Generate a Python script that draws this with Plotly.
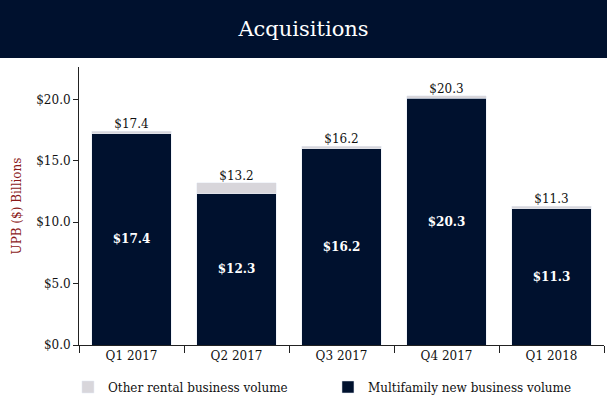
import plotly.graph_objects as go

quarters = ["Q1 2017", "Q2 2017", "Q3 2017", "Q4 2017", "Q1 2018"]
multifamily = [17.2, 12.3, 16.0, 20.1, 11.1]
other_rental = [0.2, 0.9, 0.2, 0.2, 0.2]
inside_labels = [17.4, 12.3, 16.2, 20.3, 11.3]
total_labels = [17.4, 13.2, 16.2, 20.3, 11.3]

NAVY = "#00112E"
GRAY = "#D8D6DB"
FONT = "DejaVu Serif"

totals = [m + o for m, o in zip(multifamily, other_rental)]

fig = go.Figure()
fig.add_trace(
    go.Bar(
        x=quarters,
        y=multifamily,
        name="Multifamily new business volume",
        marker_color=NAVY,
        text=[f"<b>${v:.1f}</b>" for v in inside_labels],
        textposition="inside",
        insidetextanchor="middle",
        textfont=dict(color="white", size=12, family=FONT),
        hoverinfo="skip",
    )
)
fig.add_trace(
    go.Bar(
        x=quarters,
        y=other_rental,
        name="Other rental business volume",
        marker_color=GRAY,
        textposition="none",
        hoverinfo="skip",
    )
)
# totals above each stack
fig.add_trace(
    go.Scatter(
        x=quarters,
        y=totals,
        mode="text",
        text=[f"${v:.1f}" for v in total_labels],
        textposition="top center",
        textfont=dict(color="#111111", size=12, family=FONT),
        showlegend=False,
        cliponaxis=False,
        hoverinfo="skip",
    )
)

# title banner
fig.add_shape(
    type="rect", xref="paper", yref="paper",
    x0=-0.2, x1=1.1, y0=1.0324, y1=1.3,
    fillcolor=NAVY, line_width=0, layer="below",
)

fig.update_layout(
    width=607,
    height=419,
    barmode="stack",
    bargap=0.24,
    paper_bgcolor="white",
    plot_bgcolor="white",
    margin=dict(l=79, r=3, t=67, b=74),
    font=dict(family=FONT, size=12, color="#111111"),
    title=dict(
        text="Acquisitions",
        x=0.5, xanchor="center",
        y=1 - 29 / 419, yanchor="middle",
        font=dict(family=FONT, size=21, color="white"),
    ),
    showlegend=True,
    legend=dict(
        orientation="h",
        traceorder="reversed",
        x=-0.021, xanchor="left",
        y=-0.151, yanchor="middle",
        entrywidth=215,
        font=dict(family=FONT, size=12, color="#111111"),
    ),
    xaxis=dict(
        showline=True, linecolor="#222222", linewidth=1,
        ticks="outside", tickson="boundaries", ticklen=7, tickcolor="#222222",
        showgrid=False, automargin=False,
        tickfont=dict(family=FONT, size=12, color="#111111"),
    ),
    yaxis=dict(
        range=[0, 22.64],
        dtick=5,
        tickprefix="$", tickformat=".1f",
        showline=True, linecolor="#222222", linewidth=1,
        ticks="outside", ticklen=5, tickcolor="#222222",
        showgrid=False, zeroline=False, automargin=False,
        tickfont=dict(family=FONT, size=12, color="#111111"),
        title=dict(
            text="UPB ($) Billions",
            font=dict(family=FONT, size=12, color="#8B1A1A"),
            standoff=12,
        ),
    ),
)

fig.write_html(
    "out.html",
    config={"displayModeBar": False},
    post_script="document.body.style.margin='0';",
)
